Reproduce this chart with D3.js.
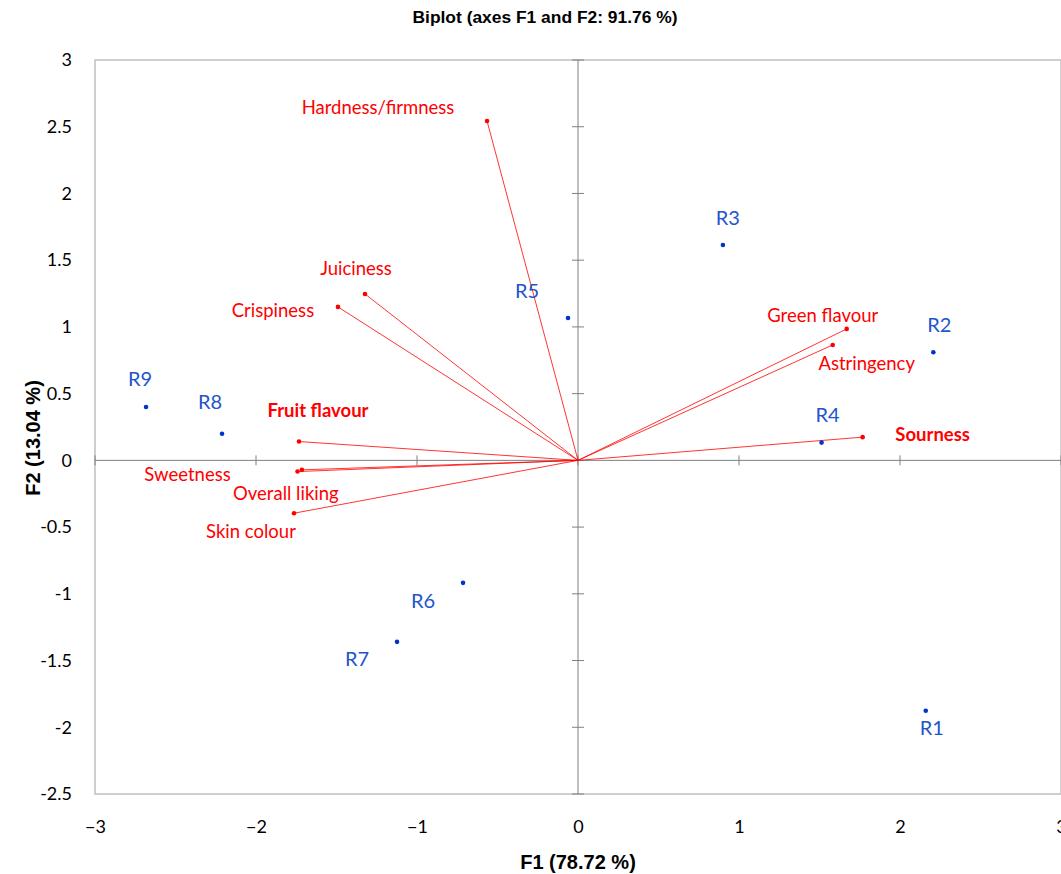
<!DOCTYPE html>
<html>
<head>
<meta charset="utf-8">
<script src="https://cdn.jsdelivr.net/npm/d3@7"></script>
<style>
  body { margin: 0; background: #fff; }
  svg { display: block; font-family: Lato, "Open Sans", sans-serif; }
</style>
</head>
<body>
<script>
// observations (blue)
const obsNames = ['R1', 'R2', 'R3', 'R4', 'R5', 'R6', 'R7', 'R8', 'R9'];
const obsF1 = [2.16, 2.207, 0.90, 1.513, -0.062, -0.714, -1.124, -2.211, -2.683];
const obsF2 = [-1.876, 0.81, 1.614, 0.133, 1.067, -0.918, -1.36, 0.199, 0.40];

// variables (red)
const varNames = ['Hardness/firmness', 'Juiciness', 'Crispiness', 'Fruit flavour', 'Sweetness',
    'Overall liking', 'Skin colour', 'Green flavour', 'Astringency', 'Sourness'];
const varF1 = [-0.565, -1.323, -1.491, -1.733, -1.742, -1.715, -1.764, 1.669, 1.582, 1.768];
const varF2 = [2.543, 1.247, 1.15, 0.141, -0.084, -0.071, -0.396, 0.985, 0.865, 0.174];
const boldVars = ['Fruit flavour', 'Sourness'];

const xTicks = [-3, -2, -1, 0, 1, 2, 3];
const yTicks = [-2.5, -2, -1.5, -1, -0.5, 0, 0.5, 1, 1.5, 2, 2.5, 3];

// label offsets from the point (px)
const obsLabelPos = {
    R1: [6, 19], R2: [6, -25], R3: [5, -25], R4: [6, -26], R5: [-41, -25],
    R6: [-40, 20], R7: [-40, 19], R8: [-12, -30], R9: [-6, -26]
};
const varLabelPos = {
    'Hardness/firmness': [-109, -12], 'Juiciness': [-9, -24], 'Crispiness': [-65, 5],
    'Fruit flavour': [19, -29], 'Sweetness': [-110, 5], 'Overall liking': [-16, 25],
    'Skin colour': [-43, 20], 'Green flavour': [-24, -12], 'Astringency': [34, 20],
    'Sourness': [70, -1]
};

const W = 1061, H = 874;

const svg = d3.select('body').append('svg')
    .attr('width', W)
    .attr('height', H);

const x = d3.scaleLinear().domain([-3, 3]).range([95, 1061]);
const y = d3.scaleLinear().domain([-2.5, 3]).range([794, 60]);

// title
svg.append('text')
    .attr('x', 545).attr('y', 23)
    .attr('text-anchor', 'middle')
    .style('font-family', '"Liberation Sans Narrow", "Arial Narrow", "Liberation Sans", sans-serif')
    .style('font-weight', 'bold')
    .style('font-size', '16px')
    .attr('textLength', 265)
    .attr('lengthAdjust', 'spacingAndGlyphs')
    .text('Biplot (axes F1 and F2: 91.76 %)');

// plot frame
svg.append('rect')
    .attr('x', x(-3)).attr('y', y(3))
    .attr('width', x(3) - x(-3)).attr('height', y(-2.5) - y(3))
    .attr('fill', 'none')
    .attr('stroke', '#c0c0c0')
    .attr('stroke-width', 1.5);

// tick labels, using axes without lines
const xAxis = svg.append('g')
    .attr('transform', `translate(0, ${y(-2.5) + 23})`)
    .call(d3.axisBottom(x).tickValues(xTicks).tickSize(0).tickFormat(d3.format('d')));
const yAxis = svg.append('g')
    .attr('transform', `translate(${x(-3) - 20}, 0)`)
    .call(d3.axisLeft(y).tickValues(yTicks).tickSize(0).tickFormat(d => String(d)));
[xAxis, yAxis].forEach(a => {
    a.select('.domain').remove();
    a.selectAll('text').style('font-size', '18px').style('fill', '#000')
        .style('font-family', 'Lato, "Open Sans", sans-serif');
});

// zero axes with cross ticks
const zero = svg.append('g').attr('stroke', '#808080').attr('stroke-width', 1);
zero.append('line').attr('x1', x(-3)).attr('x2', x(3)).attr('y1', y(0)).attr('y2', y(0));
zero.append('line').attr('x1', x(0)).attr('x2', x(0)).attr('y1', y(3)).attr('y2', y(-2.5));
zero.selectAll('.xt').data(xTicks).join('line')
    .attr('x1', d => x(d)).attr('x2', d => x(d))
    .attr('y1', y(0) - 5).attr('y2', y(0) + 5);
zero.selectAll('.yt').data(yTicks).join('line')
    .attr('x1', x(0) - 6).attr('x2', x(0) + 6)
    .attr('y1', d => y(d)).attr('y2', d => y(d));

// axis titles
svg.append('text')
    .attr('x', x(0)).attr('y', 869)
    .attr('text-anchor', 'middle')
    .style('font-family', '"Liberation Sans", Arial, sans-serif')
    .style('font-weight', 'bold').style('font-size', '20px')
    .text('F1 (78.72 %)');
svg.append('text')
    .attr('transform', `translate(40, 438) rotate(-90)`)
    .attr('text-anchor', 'middle')
    .style('font-family', '"Liberation Sans", Arial, sans-serif')
    .style('font-weight', 'bold').style('font-size', '20px')
    .text('F2 (13.04 %)');

// variable vectors
const vars = varNames.map((n, i) => ({ name: n, f1: varF1[i], f2: varF2[i] }));
svg.append('g').selectAll('line').data(vars).join('line')
    .attr('x1', x(0)).attr('y1', y(0))
    .attr('x2', d => x(d.f1)).attr('y2', d => y(d.f2))
    .attr('stroke', '#ff0000').attr('stroke-width', 0.8);
svg.append('g').selectAll('circle').data(vars).join('circle')
    .attr('cx', d => x(d.f1)).attr('cy', d => y(d.f2))
    .attr('r', 2.3).attr('fill', '#ff0000');
svg.append('g').selectAll('text').data(vars).join('text')
    .attr('x', d => x(d.f1) + varLabelPos[d.name][0])
    .attr('y', d => y(d.f2) + varLabelPos[d.name][1])
    .attr('text-anchor', 'middle')
    .attr('dominant-baseline', 'middle')
    .style('font-size', '18.5px')
    .style('font-weight', d => boldVars.includes(d.name) ? 'bold' : 'normal')
    .attr('fill', '#ff0000')
    .text(d => d.name);

// observations
const obs = obsNames.map((n, i) => ({ name: n, f1: obsF1[i], f2: obsF2[i] }));
svg.append('g').selectAll('circle').data(obs).join('circle')
    .attr('cx', d => x(d.f1)).attr('cy', d => y(d.f2))
    .attr('r', 2.3).attr('fill', '#0033cc');
svg.append('g').selectAll('text').data(obs).join('text')
    .attr('x', d => x(d.f1) + obsLabelPos[d.name][0])
    .attr('y', d => y(d.f2) + obsLabelPos[d.name][1])
    .attr('text-anchor', 'middle')
    .attr('dominant-baseline', 'middle')
    .style('font-size', '20px')
    .attr('fill', '#2255cc')
    .text(d => d.name);
</script>
</body>
</html>
